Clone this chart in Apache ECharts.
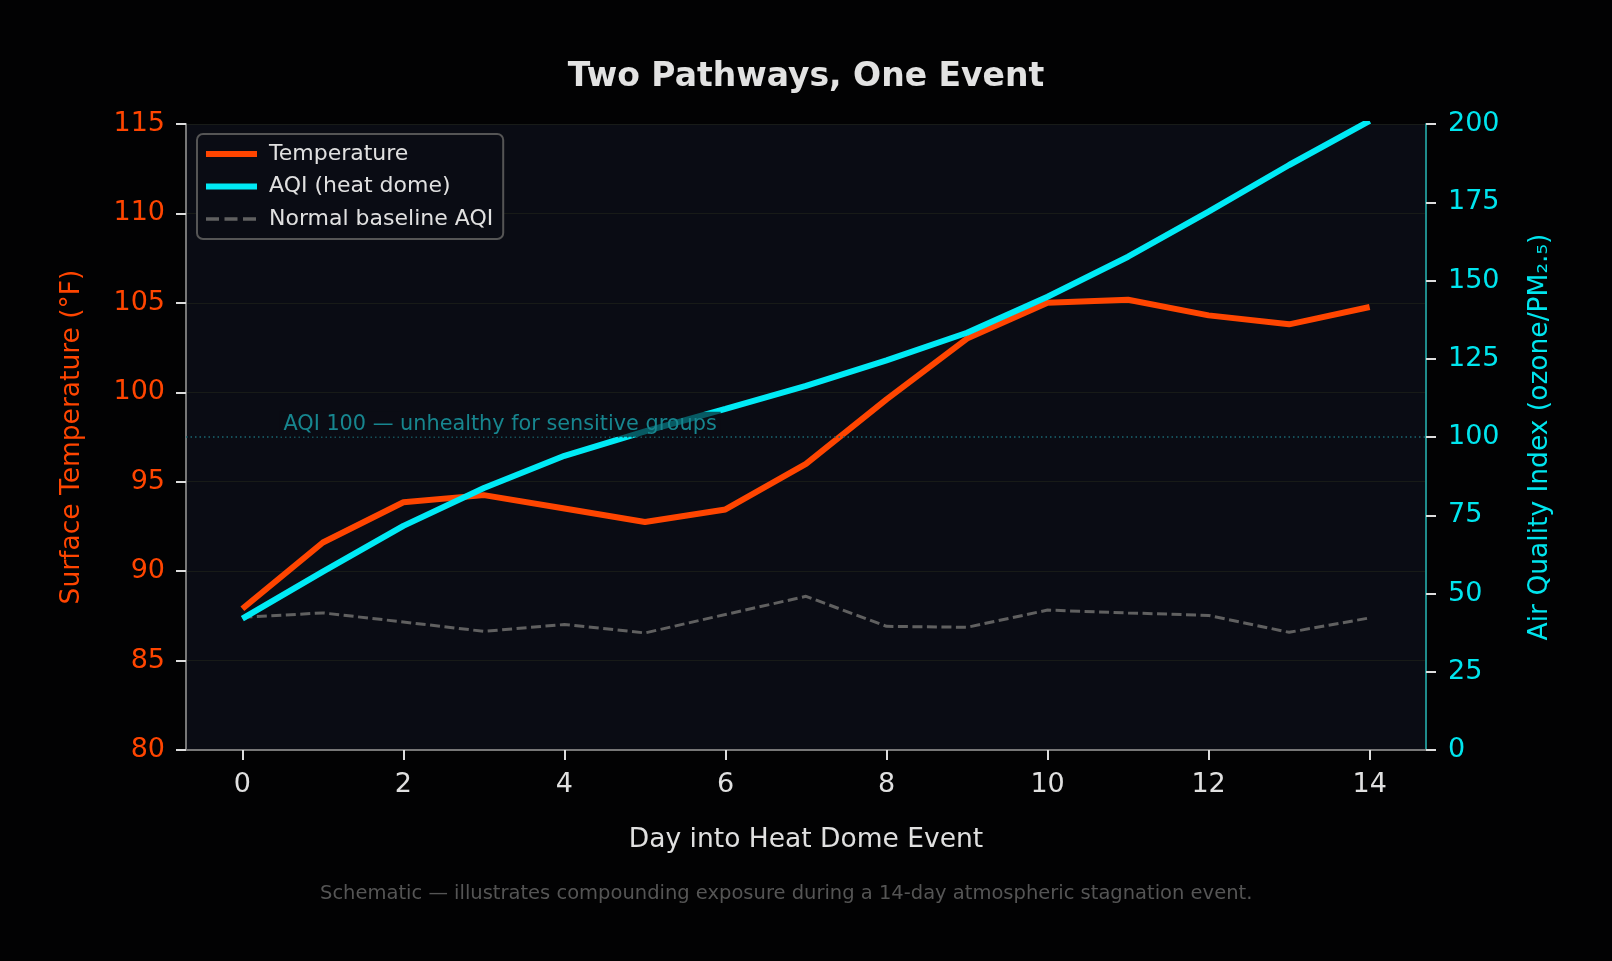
<!DOCTYPE html>
<html>
<head>
    <meta charset="utf-8">
    <title>Two Pathways, One Event</title>
    <script src="https://cdn.jsdelivr.net/npm/echarts@6/dist/echarts.min.js"></script>
    <style>
        html, body { margin: 0; padding: 0; background: #020203; }
        #main { width: 1612px; height: 961px; }
    </style>
</head>
<body>
<div id="main"></div>
<script type="text/javascript">
    // values
    var days = [0, 1, 2, 3, 4, 5, 6, 7, 8, 9, 10, 11, 12, 13, 14];
    var temperature = [87.9, 91.6, 93.85, 94.25, 93.5, 92.75, 93.45, 96.0, 99.6, 103.0, 105.0, 105.17, 104.3, 103.8, 104.77];
    var aqiHeatDome = [42, 57, 71.6, 83.7, 94, 101.8, 109, 116.3, 124.5, 133.3, 144.8, 157.6, 172, 186.9, 201];
    var aqiBaseline = [42.4, 43.8, 40.9, 37.9, 40.1, 37.4, 43.3, 49.1, 39.5, 39.2, 44.7, 43.8, 43.0, 37.6, 42.2];
    var xTicks = [0, 2, 4, 6, 8, 10, 12, 14];
    var aqiThreshold = 100;

    function pairs(ys) {
        return days.map(function (d, i) { return [d, ys[i]]; });
    }

    var font = 'DejaVu Sans';
    var chart = echarts.init(document.getElementById('main'));

    var option = {
        backgroundColor: '#020203',
        textStyle: { fontFamily: font },
        title: {
            text: 'Two Pathways, One Event',
            left: 'center',
            top: 56,
            textStyle: { color: '#e2e2e2', fontSize: 33, fontWeight: 'bold', fontFamily: font }
        },
        legend: {
            orient: 'vertical',
            left: 197,
            top: 134,
            padding: [9, 10, 9, 6],
            itemWidth: 51,
            itemHeight: 14,
            itemGap: 10.5,
            backgroundColor: '#0a0c14',
            borderColor: '#555',
            borderWidth: 2,
            borderRadius: 6,
            itemStyle: { opacity: 0 },
            textStyle: { color: '#e0e0e0', fontSize: 22, fontFamily: font, padding: [0, 0, 0, 7] },
            data: [
                { name: 'Temperature', lineStyle: { width: 6 } },
                { name: 'AQI (heat dome)', lineStyle: { width: 6 } },
                { name: 'Normal baseline AQI', lineStyle: { width: 3.5, type: [13, 5.5] } }
            ]
        },
        grid: {
            left: 186,
            right: 186,
            top: 124,
            bottom: 211,
            show: true,
            backgroundColor: '#0a0c14',
            borderWidth: 0
        },
        xAxis: {
            type: 'value',
            min: -0.7,
            max: 14.7,
            name: 'Day into Heat Dome Event',
            nameLocation: 'middle',
            nameGap: 77,
            nameTextStyle: { color: '#e0e0e0', fontSize: 26.5, fontFamily: font },
            axisLine: { show: true, onZero: false, lineStyle: { color: '#777', width: 2 } },
            axisTick: { show: true, length: 10, customValues: xTicks, lineStyle: { color: '#ddd', width: 2 } },
            axisLabel: { customValues: xTicks, color: '#e0e0e0', fontSize: 27, margin: 21, fontFamily: font },
            splitLine: { show: false }
        },
        yAxis: [{
            type: 'value',
            min: 80,
            max: 115,
            interval: 5,
            position: 'left',
            name: 'Surface Temperature (°F)',
            nameLocation: 'middle',
            nameGap: 100,
            nameTextStyle: { color: '#ff4500', fontSize: 26.5, fontFamily: font },
            axisLine: { show: true, onZero: false, lineStyle: { color: '#777', width: 2 } },
            axisTick: { show: true, length: 10, lineStyle: { color: '#ddd', width: 2 } },
            axisLabel: { color: '#ff4500', fontSize: 27, margin: 21, fontFamily: font },
            splitLine: { show: true, lineStyle: { color: '#181b18', width: 1 } }
        }, {
            type: 'value',
            min: 0,
            max: 200,
            interval: 25,
            position: 'right',
            name: 'Air Quality Index (ozone/PM₂.₅)',
            nameLocation: 'middle',
            nameGap: 101,
            nameRotate: 90,
            nameTextStyle: { color: '#00e5ee', fontSize: 26.5, fontFamily: font },
            axisLine: { show: true, onZero: false, lineStyle: { color: '#1f8c8c', width: 2 } },
            axisTick: { show: true, length: 10, lineStyle: { color: '#ddd', width: 2 } },
            axisLabel: { color: '#00e5ee', fontSize: 27, margin: 22, fontFamily: font },
            splitLine: { show: false }
        }],
        graphic: [{
            type: 'text',
            left: 320,
            top: 884,
            style: {
                text: 'Schematic — illustrates compounding exposure during a 14-day atmospheric stagnation event.',
                fill: '#555',
                fontSize: 19.5,
                fontFamily: font
            }
        }],
        series: [{
            name: 'Normal baseline AQI',
            type: 'line',
            yAxisIndex: 1,
            data: pairs(aqiBaseline),
            symbol: 'none',
            z: 2,
            color: '#606060',
            lineStyle: { color: '#606060', width: 3, type: [10, 4.5] },
            markLine: {
                silent: true,
                symbol: 'none',
                label: { show: false },
                lineStyle: { color: '#1a6670', width: 1.5, type: [1.5, 3] },
                data: [{ yAxis: aqiThreshold }]
            }
        }, {
            name: 'Temperature',
            type: 'line',
            yAxisIndex: 0,
            data: pairs(temperature),
            symbol: 'none',
            z: 3,
            color: '#ff4500',
            lineStyle: { color: '#ff4500', width: 6 }
        }, {
            name: 'AQI (heat dome)',
            type: 'line',
            yAxisIndex: 1,
            data: pairs(aqiHeatDome),
            symbol: 'none',
            z: 4,
            color: '#00eaf5',
            lineStyle: { color: '#00eaf5', width: 6 },
            markPoint: {
                silent: true,
                symbol: 'circle',
                symbolSize: 0,
                label: {
                    show: true,
                    position: 'right',
                    distance: 0,
                    formatter: 'AQI 100 — unhealthy for sensitive groups',
                    color: '#17868f',
                    fontSize: 20.8,
                    fontFamily: font,
                    backgroundColor: 'rgba(10,12,20,0.65)',
                    padding: [2, 4]
                },
                data: [{ coord: [0.46, 104.1] }]
            }
        }]
    };

    chart.setOption(option);
</script>
</body>
</html>
